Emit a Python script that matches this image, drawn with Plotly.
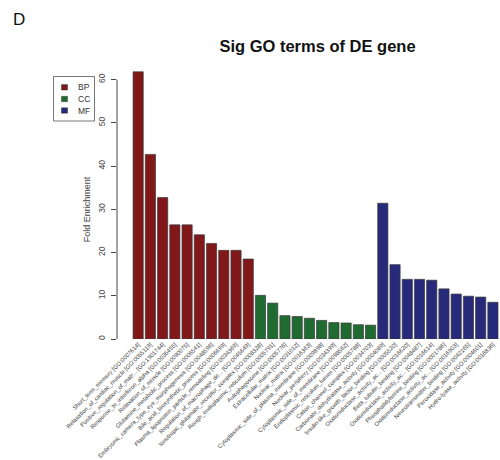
import plotly.graph_objects as go

# ---- data ----
bp_terms = [
    "Short_term_memory [GO:0007614]",
    "Relaxation_of_cardiac_muscle [GO:0055119]",
    "Positive_regulation_of_matr... [GO:1901744]",
    "Response_to_interferon_alpha [GO:0035455]",
    "Relaxation_of_muscle [GO:0090075]",
    "Glutamine_metabolic_process [GO:0006541]",
    "Embryonic_camera_type_eye_morphogenesis [GO:0048596]",
    "Bile_acid_biosynthetic_process [GO:0006699]",
    "Plasma_lipoprotein_particle_remodeling [GO:0034369]",
    "Regulation_of_macrophage_de... [GO:0045649]",
]
bp_values = [61.8, 42.7, 32.7, 26.4, 26.4, 24.1, 22.1, 20.5, 20.5, 18.5]

cc_terms = [
    "Ionotropic_glutamate_receptor_complex [GO:0008328]",
    "Rough_endoplasmic_reticulum [GO:0005791]",
    "Autophagosome [GO:0005776]",
    "Extracellular_matrix [GO:0031012]",
    "Nuclear_matrix [GO:0016363]",
    "Cytoplasmic_side_of_plasma_membrane [GO:0009898]",
    "Nuclear_periphery [GO:0034399]",
    "Cytoplasmic_side_of_membrane [GO:0098562]",
    "Endoplasmic_reticulum_lumen [GO:0005788]",
    "Cation_channel_complex [GO:0034703]",
]
cc_values = [10.1, 8.3, 5.4, 5.2, 4.8, 4.3, 3.8, 3.7, 3.3, 3.2]

mf_terms = [
    "Carbonate_dehydratase_activity [GO:0004089]",
    "Insulin-like_growth_factor_binding [GO:0005520]",
    "Oxidoreductase_activity_ac... [GO:0016620]",
    "Beta_tubulin_binding [GO:0048487]",
    "Oxidoreductase_activity_ac... [GO:0016614]",
    "Phosphatidylserine_binding [GO:0001786]",
    "Oxidoreductase_activity_ac... [GO:0016903]",
    "Neurotransmitter_binding [GO:0042165]",
    "Peroxidase_activity [GO:0004601]",
    "Hydro-lyase_activity [GO:0016836]",
]
mf_values = [31.4, 17.2, 13.8, 13.8, 13.6, 11.6, 10.4, 9.9, 9.7, 8.5]

groups = ["BP", "CC", "MF"]
colors = ["#811719", "#1f6b31", "#272a7a"]
y_ticks = [0, 10, 20, 30, 40, 50, 60]

all_terms = bp_terms + cc_terms + mf_terms
FONT = "Liberation Sans, Arial, Helvetica, sans-serif"

fig = go.Figure()
for name, terms, vals, col in zip(groups, [bp_terms, cc_terms, mf_terms],
                                  [bp_values, cc_values, mf_values], colors):
    fig.add_trace(go.Bar(
        x=terms, y=vals, name=name,
        marker=dict(color=col, line=dict(color="#3a3a3a", width=0.7)),
        showlegend=False,
    ))

fig.update_layout(
    width=500, height=460,
    margin=dict(l=117, r=0, t=61, b=121),
    paper_bgcolor="white", plot_bgcolor="white",
    barmode="overlay", bargap=0.167,
    font=dict(family=FONT, color="#333"),
    title=dict(text="<b>Sig GO terms of DE gene</b>", xref="container", x=0.635,
               xanchor="center", yref="container", y=1 - 46 / 460, yanchor="middle",
               font=dict(size=16.5, color="#111", family=FONT)),
    xaxis=dict(
        type="category", categoryorder="array", categoryarray=all_terms,
        range=[-1.73, 29.58], showgrid=False, showline=False, zeroline=False,
        ticks="", tickangle=-45, tickfont=dict(size=5.9, color="#444"),
        automargin=False,
    ),
    yaxis=dict(
        range=[0, 64.3], tickvals=y_ticks, ticks="outside", ticklen=5,
        tickcolor="#444", tickwidth=1, showgrid=False, zeroline=False,
        showline=False, tickangle=-90, tickfont=dict(size=8.5, color="#444"),
        ticklabelstandoff=3, automargin=False,
    ),
    showlegend=False,
)


def px2x(px):
    return (px - 117) / 383


def py2y(py):
    return (339 - py) / 278


# R-style y axis line from first to last tick
fig.add_shape(type="line", xref="paper", yref="y", x0=0, x1=0,
              y0=y_ticks[0], y1=y_ticks[-1], line=dict(color="#444", width=1))

# y axis title
fig.add_annotation(text="Fold Enrichment", xref="paper", yref="y",
                   x=px2x(87), y=30, textangle=-90, showarrow=False,
                   font=dict(size=9, color="#444"), xanchor="center", yanchor="middle")

# panel letter
fig.add_annotation(text="D", xref="paper", yref="paper", x=px2x(11),
                   y=py2y(19), xanchor="left", yanchor="middle", showarrow=False,
                   font=dict(size=17, color="#111"))

# legend box (R style)
fig.add_shape(type="rect", xref="paper", yref="paper",
              x0=px2x(53.5), x1=px2x(94.5), y0=py2y(76.5), y1=py2y(121),
              line=dict(color="#555", width=0.8), fillcolor="white")
row_y = [87.3, 99, 110.5]
for name, col, ry in zip(groups, colors, row_y):
    fig.add_shape(type="rect", xref="paper", yref="paper",
                  x0=px2x(61.5), x1=px2x(67.5), y0=py2y(ry - 2.7), y1=py2y(ry + 2.7),
                  line=dict(color="#333", width=0.5), fillcolor=col)
    fig.add_annotation(text=name, xref="paper", yref="paper", x=px2x(75.5), y=py2y(ry),
                       xanchor="left", yanchor="middle", showarrow=False,
                       font=dict(size=8.5, color="#333"))

fig.write_html("out.html")
